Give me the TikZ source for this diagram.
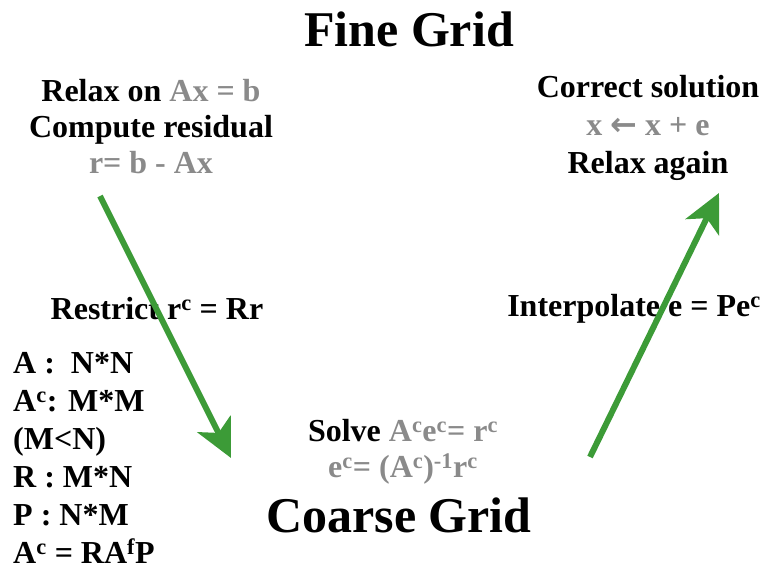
\documentclass[tikz,border=0pt]{standalone}
\usepackage{fontspec}
\setmainfont{Liberation Serif}
\newfontfamily\arrowfont{DejaVu Sans}
\usetikzlibrary{arrows.meta}
\definecolor{cyclegreen}{RGB}{60,155,55}
\definecolor{eqgray}{RGB}{138,138,138}
\tikzset{every node/.append style={align=center}}
\newcommand{\sps}[1]{\textsuperscript{#1}}

\begin{document}
\begin{tikzpicture}[x=1pt, y=1pt, inner sep=0pt,
    font=\bfseries\fontsize{32}{36}\selectfont,
    title/.style={font=\bfseries\fontsize{50}{56}\selectfont},
    cycle arrow/.style={-{Stealth[length=38pt,width=37pt,inset=10pt]},
      line width=6pt, cyclegreen}]
  \useasboundingbox (0,0) rectangle (762,-569);

  % Grid titles
  \node[title] (fine) at (409,-29) {Fine Grid};
  \node[title] (coarse) at (399,-515) {Coarse Grid};

  % Fine grid, before the coarse step
  \node (relax) at (151,-127)
    {Relax on \textcolor{eqgray}{Ax = b}\\
     Compute residual\\
     \textcolor{eqgray}{r= b - Ax}};

  % Fine grid, after the coarse step
  \node[font=\bfseries\fontsize{32}{38}\selectfont] (correct) at (648,-128)
    {Correct solution\\
     \textcolor{eqgray}{x {\arrowfont\bfseries ←} x + e}\\
     Relax again};

  % Transfer labels
  \node (restrict) at (157,-309) {Restrict r\sps{c} = Rr};
  \node (interp) at (634,-309) {Interpolate e = Pe\sps{c}};

  % Coarse grid solve
  \node (solve) at (403,-452)
    {Solve \textcolor{eqgray}{A\sps{c}e\sps{c}= r\sps{c}}\\
     \textcolor{eqgray}{e\sps{c}= (A\sps{c})\sps{-1}r\sps{c}}};

  % Sizes of the operators
  \node[anchor=west, align=left, font=\bfseries\fontsize{32}{38}\selectfont]
    (sizes) at (13,-458)
    {A :\ \ N*N\\
     A\sps{c}: M*M\\
     (M<N)\\
     R : M*N\\
     P : N*M\\
     A\sps{c} = RA\sps{f}P};

  % Down and up arrows
  \coordinate (downfrom) at (100,-196);
  \coordinate (downto) at (231,-458);
  \coordinate (upfrom) at (590,-457);
  \coordinate (upto) at (719,-193);
  \draw[cycle arrow] (downfrom) -- (downto);
  \draw[cycle arrow] (upfrom) -- (upto);

\end{tikzpicture}
\end{document}
